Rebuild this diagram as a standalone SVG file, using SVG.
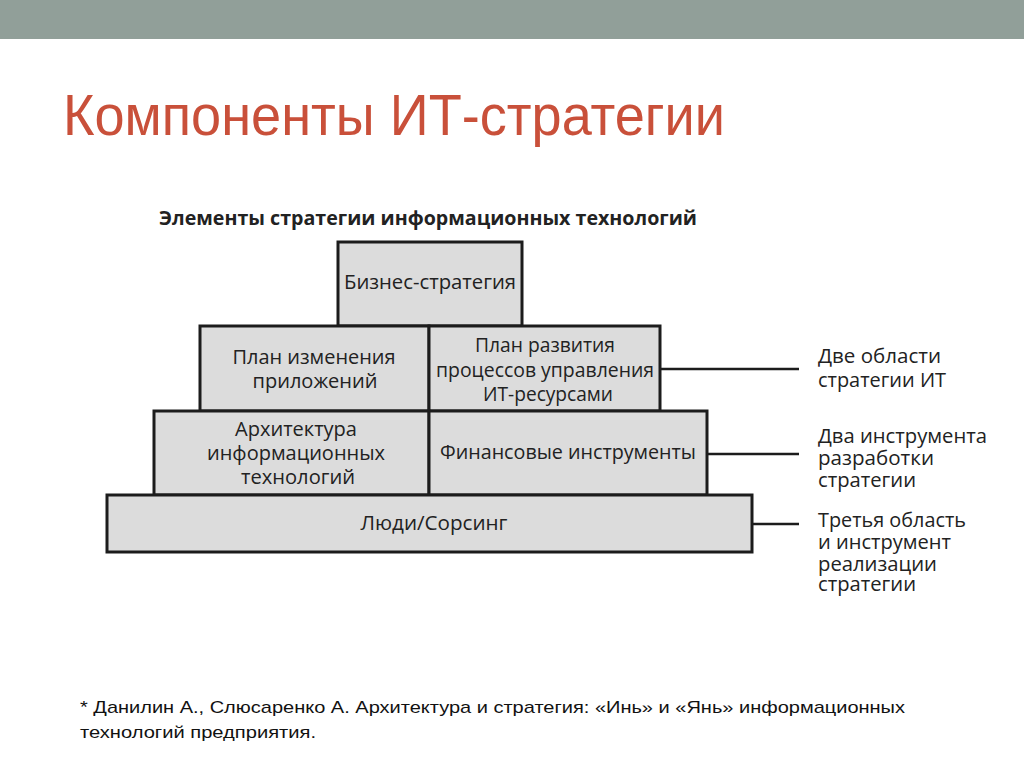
<svg xmlns="http://www.w3.org/2000/svg" width="1024" height="767" viewBox="0 0 1024 767">
<style>
.box{fill:#dcdcdc;stroke:#1c1c1c;stroke-width:3}
.t{font-family:"Open Sans","Noto Sans","DejaVu Sans",sans-serif;font-size:20px;fill:#222;text-anchor:middle}
.r{font-family:"Open Sans","Noto Sans","DejaVu Sans",sans-serif;font-size:20px;fill:#222}
.conn{stroke:#1c1c1c;stroke-width:2.5;fill:none}
.foot{font-family:"Liberation Sans",Arial,sans-serif;font-size:17px;fill:#111}
</style>
<rect x="0" y="0" width="1024" height="767" fill="#ffffff"/>
<rect x="0" y="0" width="1024" height="39" fill="#919f99"/>
<text x="63" y="135" font-family="Liberation Sans, Arial, sans-serif" font-size="58" fill="#c9503a" textLength="662" lengthAdjust="spacingAndGlyphs">Компоненты ИТ-стратегии</text>
<text x="159" y="225" font-family="Open Sans, Noto Sans, sans-serif" font-size="19" font-weight="bold" fill="#222" textLength="538" lengthAdjust="spacingAndGlyphs">Элементы стратегии информационных технологий</text>

<g id="connectors">
<line class="conn" x1="660" y1="369" x2="799" y2="369"/>
<line class="conn" x1="707" y1="454" x2="799" y2="454"/>
<line class="conn" x1="752" y1="524" x2="799" y2="524"/>
</g>

<g id="biz">
<rect class="box" x="338" y="242" width="184" height="84"/>
<text class="t" x="430" y="289" textLength="172" lengthAdjust="spacingAndGlyphs">Бизнес-стратегия</text>
</g>
<g id="plan-apps">
<rect class="box" x="200" y="326" width="229" height="85"/>
<text class="t" x="314" y="364" textLength="163" lengthAdjust="spacingAndGlyphs">План изменения</text>
<text class="t" x="315" y="388" textLength="125" lengthAdjust="spacingAndGlyphs">приложений</text>
</g>
<g id="plan-proc">
<rect class="box" x="429" y="326" width="231" height="85"/>
<text class="t" x="545" y="352" textLength="140" lengthAdjust="spacingAndGlyphs">План развития</text>
<text class="t" x="545" y="377" textLength="218" lengthAdjust="spacingAndGlyphs">процессов управления</text>
<text class="t" x="548" y="401" textLength="130" lengthAdjust="spacingAndGlyphs">ИТ-ресурсами</text>
</g>
<g id="arch">
<rect class="box" x="154" y="411" width="275" height="84"/>
<text class="t" x="296" y="436" textLength="122" lengthAdjust="spacingAndGlyphs">Архитектура</text>
<text class="t" x="296" y="460" textLength="178" lengthAdjust="spacingAndGlyphs">информационных</text>
<text class="t" x="298" y="484" textLength="114" lengthAdjust="spacingAndGlyphs">технологий</text>
</g>
<g id="fin">
<rect class="box" x="429" y="411" width="278" height="84"/>
<text class="t" x="568" y="459" textLength="256" lengthAdjust="spacingAndGlyphs">Финансовые инструменты</text>
</g>
<g id="people">
<rect class="box" x="107" y="495" width="645" height="57"/>
<text class="t" x="434" y="530" textLength="147" lengthAdjust="spacingAndGlyphs">Люди/Сорсинг</text>
</g>

<g id="label1">
<text class="r" x="818" y="363" textLength="123" lengthAdjust="spacingAndGlyphs">Две области</text>
<text class="r" x="818" y="387" textLength="128" lengthAdjust="spacingAndGlyphs">стратегии ИТ</text>
</g>
<g id="label2">
<text class="r" x="818" y="443" textLength="169" lengthAdjust="spacingAndGlyphs">Два инструмента</text>
<text class="r" x="818" y="465" textLength="116" lengthAdjust="spacingAndGlyphs">разработки</text>
<text class="r" x="818" y="487" textLength="98" lengthAdjust="spacingAndGlyphs">стратегии</text>
</g>
<g id="label3">
<text class="r" x="818" y="527" textLength="148" lengthAdjust="spacingAndGlyphs">Третья область</text>
<text class="r" x="818" y="549" textLength="133" lengthAdjust="spacingAndGlyphs">и инструмент</text>
<text class="r" x="818" y="571" textLength="119" lengthAdjust="spacingAndGlyphs">реализации</text>
<text class="r" x="818" y="591" textLength="98" lengthAdjust="spacingAndGlyphs">стратегии</text>
</g>

<text class="foot" x="80" y="713" textLength="825" lengthAdjust="spacingAndGlyphs">* Данилин А., Слюсаренко А. Архитектура и стратегия: «Инь» и «Янь» информационных</text>
<text class="foot" x="80" y="738" textLength="236" lengthAdjust="spacingAndGlyphs">технологий предприятия.</text>
</svg>
